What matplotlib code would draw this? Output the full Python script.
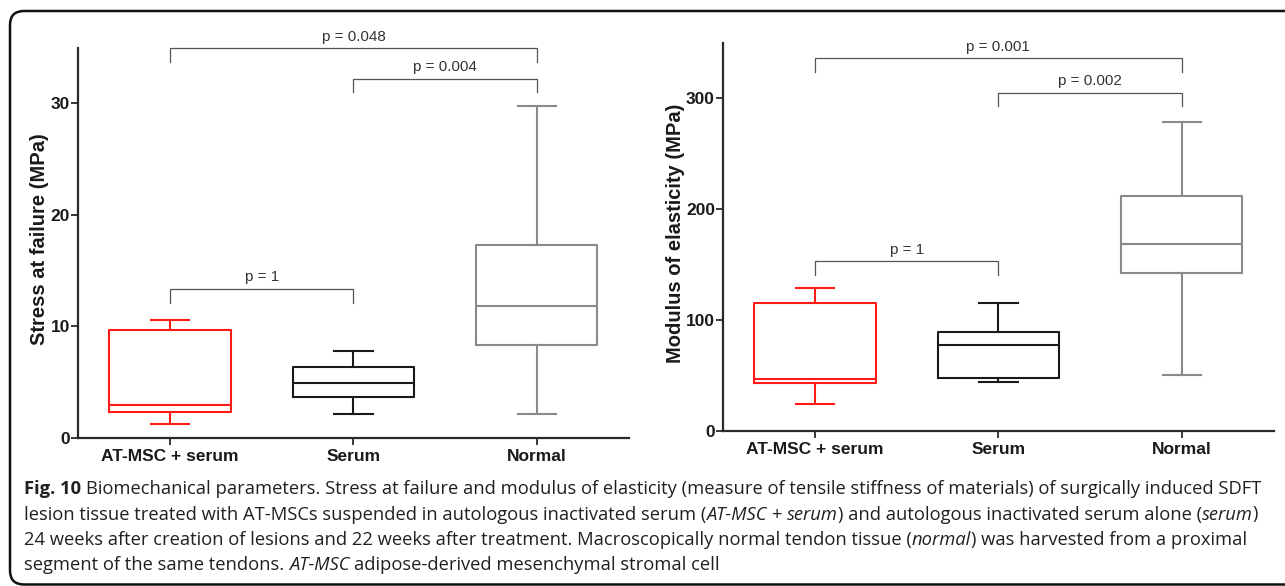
import matplotlib
matplotlib.use('Agg')
import matplotlib.pyplot as plt
from matplotlib.patches import FancyBboxPatch
from matplotlib.transforms import IdentityTransform
from matplotlib.font_manager import FontProperties

W, H = 1285, 586

groups = ['AT-MSC + serum', 'Serum', 'Normal']
box_colors = ['#ff1a1a', '#1a1a1a', '#8a8a8a']

# stress at failure (MPa)
stress_lo = [1.23, 2.1, 2.16]
stress_q1 = [2.34, 3.69, 8.36]
stress_med = [2.94, 4.89, 11.78]
stress_q3 = [9.71, 6.33, 17.27]
stress_hi = [10.52, 7.8, 29.77]

# modulus of elasticity (MPa)
modulus_lo = [24.5, 44.3, 50.9]
modulus_q1 = [43.6, 48.2, 142.5]
modulus_med = [47.0, 77.4, 168.7]
modulus_q3 = [115.0, 89.5, 211.7]
modulus_hi = [128.6, 115.0, 278.9]

# significance brackets: (group a, group b, label)
pairs = [(1, 2), (1, 3), (2, 3)]
stress_p = ['p = 1', 'p = 0.048', 'p = 0.004']
stress_bracket_y = [13.35, 34.95, 32.23]
modulus_p = ['p = 1', 'p = 0.001', 'p = 0.002']
modulus_bracket_y = [153.0, 335.8, 305.1]

caption_lines = [
    [('Fig. 10', 'bold'), (' Biomechanical parameters. Stress at failure and modulus of elasticity '
                           '(measure of tensile stiffness of materials) of surgically induced SDFT', 'normal')],
    [('lesion tissue treated with AT-MSCs suspended in autologous inactivated serum (', 'normal'),
     ('AT-MSC', 'italic'), (' + ', 'normal'), ('serum', 'italic'),
     (') and autologous inactivated serum alone (', 'normal'), ('serum', 'italic'), (')', 'normal')],
    [('24 weeks after creation of lesions and 22 weeks after treatment. Macroscopically normal '
      'tendon tissue (', 'normal'), ('normal', 'italic'), (') was harvested from a proximal', 'normal')],
    [('segment of the same tendons. ', 'normal'), ('AT-MSC', 'italic'),
     (' adipose-derived mesenchymal stromal cell', 'normal')],
]
caption_baselines = [494, 519.5, 545, 570.5]

plt.rcParams['font.family'] = ['Liberation Sans', 'DejaVu Sans']

fig = plt.figure(figsize=(W / 100, H / 100), dpi=100)


def draw_panel(rect, lo, q1, med, q3, hi, ymax, yticks, ylabel, label_x, p_labels, bracket_y):
    ax = fig.add_axes(rect)
    stats = [dict(med=med[i], q1=q1[i], q3=q3[i], whislo=lo[i], whishi=hi[i], fliers=[])
             for i in range(len(groups))]
    parts = ax.bxp(stats, positions=[1, 2, 3], widths=0.66, capwidths=0.21, showfliers=False)
    for i, c in enumerate(box_colors):
        for art in [parts['boxes'][i], parts['medians'][i],
                    parts['whiskers'][2 * i], parts['whiskers'][2 * i + 1],
                    parts['caps'][2 * i], parts['caps'][2 * i + 1]]:
            art.set_color(c)
            art.set_linewidth(1.5)

    drop = 0.035 * ymax
    for (a, b), lab, y in zip(pairs, p_labels, bracket_y):
        ax.plot([a, a, b, b], [y - drop, y, y, y - drop], color='#555555', lw=0.9,
                clip_on=False)
        ax.annotate(lab, xy=((a + b) / 2, y), xytext=(0, 5.5), textcoords='offset points',
                    ha='center', va='baseline', fontsize=11, color='#333333',
                    family=['Liberation Sans Narrow', 'Liberation Sans'],
                    annotation_clip=False)

    ax.set_xlim(0.5, 3.5)
    ax.set_ylim(0, ymax)
    ax.set_xticks([1, 2, 3])
    ax.set_xticklabels(groups)
    ax.set_yticks(yticks)
    for s in ['top', 'right']:
        ax.spines[s].set_visible(False)
    for s in ['left', 'bottom']:
        ax.spines[s].set_linewidth(1.6)
        ax.spines[s].set_color('#2a2a2a')
    ax.tick_params(axis='both', direction='out', length=5, width=1.3, color='#2a2a2a',
                   labelsize=12.5, labelcolor='#1a1a1a')
    ax.tick_params(axis='x', pad=3)
    ax.tick_params(axis='y', pad=1)
    for t in ax.get_xticklabels() + ax.get_yticklabels():
        t.set_fontweight('bold')
    ax.set_ylabel(ylabel, fontsize=14.5, fontweight='bold', color='#1a1a1a', va='center')
    ax.yaxis.set_label_coords(label_x, 0.508)
    return ax


draw_panel([78.3 / W, (H - 437.7) / H, 550.3 / W, 390 / H],
           stress_lo, stress_q1, stress_med, stress_q3, stress_hi,
           35, [0, 10, 20, 30], 'Stress at failure (MPa)', -0.0703,
           stress_p, stress_bracket_y)
draw_panel([723.3 / W, (H - 431) / H, 550.2 / W, 388.3 / H],
           modulus_lo, modulus_q1, modulus_med, modulus_q3, modulus_hi,
           350, [0, 100, 200, 300], 'Modulus of elasticity (MPa)', -0.0863,
           modulus_p, modulus_bracket_y)

# rounded frame around figure and caption
frame = FancyBboxPatch((10, 1.5), 1300, 573.5, boxstyle='round,pad=0,rounding_size=14',
                       transform=IdentityTransform(), fill=False, lw=1.8, ec='#111111')
fig.add_artist(frame)

# caption drawn as runs of regular / bold / italic text
renderer = fig.canvas.get_renderer()
cap_family = ['Open Sans', 'DejaVu Sans']
cap_size = 13.2


def fp_for(style):
    if style == 'bold':
        return FontProperties(family=cap_family, size=cap_size, weight='bold')
    if style == 'italic':
        return FontProperties(family=cap_family, size=cap_size, style='italic')
    return FontProperties(family=cap_family, size=cap_size)


def advance(s, fp):
    w1 = renderer.get_text_width_height_descent('|' + s + '|', fp, ismath=False)[0]
    w0 = renderer.get_text_width_height_descent('||', fp, ismath=False)[0]
    return w1 - w0


for runs, base in zip(caption_lines, caption_baselines):
    x = 24.0
    for text, style in runs:
        fp = fp_for(style)
        sp = advance(' ', fp)
        core = text.strip(' ')
        lead = len(text) - len(text.lstrip(' '))
        trail = len(text) - len(text.rstrip(' '))
        x += lead * sp
        if core:
            fig.text(x / W, (H - base) / H, core, fontproperties=fp, color='#231f20',
                     ha='left', va='baseline')
            x += advance(core, fp)
        x += trail * sp

fig.savefig('out.png', dpi=100)
